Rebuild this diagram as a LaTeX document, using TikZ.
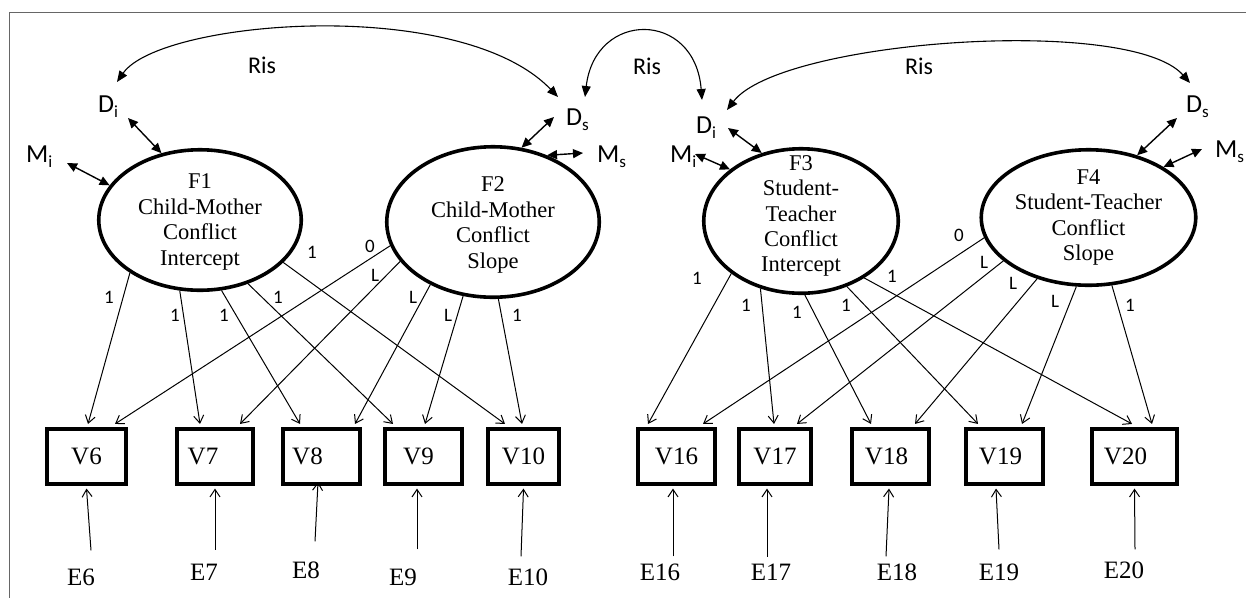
\documentclass[tikz,border=0pt]{standalone}
\usepackage{fontspec}
\setmainfont{Liberation Serif}
\newfontfamily\carlito{Carlito}
\usetikzlibrary{shapes.geometric,arrows.meta}
\newcommand\lowsub[1]{\raisebox{-5pt}{\fontsize{17}{17}\selectfont #1}}

\begin{document}
\begin{tikzpicture}[x=1pt,y=-1pt,
  latent/.style={ellipse, draw, line width=3.6pt, inner sep=0pt},
  lattext/.style={align=center, font=\fontsize{22.5}{25.4}\selectfont, inner sep=0pt},
  obs/.style={rectangle, draw, line width=3.6pt, minimum height=55.5pt, inner sep=0pt, font=\fontsize{25}{25}\selectfont},
  errlab/.style={font=\fontsize{25}{25}\selectfont, inner sep=0pt},
  load/.style={line width=1pt, -{Straight Barb[length=7.5pt,width=10pt]}},
  wt/.style={font=\carlito\fontsize{19}{19}\selectfont, inner sep=0pt},
  dist/.style={font=\carlito\fontsize{26}{26}\selectfont, inner sep=0pt, anchor=base west},
  dbl/.style={line width=1.4pt, {Triangle[length=10pt,width=9pt]}-{Triangle[length=10pt,width=9pt]}},
  cov/.style={line width=1.1pt, {Triangle[length=11pt,width=9pt]}-{Triangle[length=11pt,width=9pt]}},
  covlab/.style={font=\carlito\fontsize{24}{24}\selectfont, inner sep=0pt}
]
\useasboundingbox (0,0) rectangle (1246,598);

% frame
\draw[black!60, line width=1pt] (1246,12) -- (9,12) -- (9,598);

% latent growth factors
\node[latent, minimum width=202.5pt, minimum height=140.5pt] (F1) at (200,220) {};
\node[latent, minimum width=212.5pt, minimum height=150.5pt] (F2) at (493,222) {};
\node[latent, minimum width=194.5pt, minimum height=144.5pt] (F3) at (801,221) {};
\node[latent, minimum width=214.5pt, minimum height=135.5pt] (F4) at (1088.5,217.5) {};
\node[lattext] (F1t) at (200,222) {F1\\Child-Mother\\Conflict\\Intercept};
\node[lattext] (F2t) at (493,225) {F2\\Child-Mother\\Conflict\\Slope};
\node[lattext] (F3t) at (801,216) {F3\\Student-\\Teacher\\Conflict\\Intercept};
\node[lattext] (F4t) at (1088.5,217.5) {F4\\Student-Teacher\\Conflict\\Slope};

% observed indicators
\node[obs, minimum width=79.5pt] (V6)  at (86.5,456.5) {V6};
\node[obs, minimum width=76.5pt] (V7)  at (215,456.5)  {\kern-12pt V7\kern12pt};
\node[obs, minimum width=77.5pt] (V8)  at (321.5,456.5) {\kern-14pt V8\kern14pt};
\node[obs, minimum width=77.5pt] (V9)  at (423.5,456.5) {\kern-5pt V9\kern5pt};
\node[obs, minimum width=71.5pt] (V10) at (523.5,456.5) {V10};
\node[obs, minimum width=77.5pt] (V16) at (676.5,456.5) {V16};
\node[obs, minimum width=72.5pt] (V17) at (775,456.5)  {V17};
\node[obs, minimum width=77.5pt] (V18) at (890.5,456.5) {\kern-4pt V18\kern4pt};
\node[obs, minimum width=77.5pt] (V19) at (1004.5,456.5) {\kern-4pt V19\kern4pt};
\node[obs, minimum width=85.5pt] (V20) at (1134.5,456.5) {\kern-9pt V20\kern9pt};

% residuals
\node[errlab] (E6)  at (81,577)  {E6};
\node[errlab] (E7)  at (204,572) {E7};
\node[errlab] (E8)  at (306,570) {E8};
\node[errlab] (E9)  at (403,577) {E9};
\node[errlab] (E10) at (528,577) {E10};
\node[errlab] (E16) at (660,572) {E16};
\node[errlab] (E17) at (771,572) {E17};
\node[errlab] (E18) at (897,572) {E18};
\node[errlab] (E19) at (999,572) {E19};
\node[errlab] (E20) at (1124,570) {E20};

\draw[load] ([xshift=10pt,yshift=18pt]E6.north) -- ([yshift=-2.5pt]V6.south);
\draw[load] ([xshift=11pt,yshift=14pt]E7.north) -- ([yshift=-2.5pt]V7.south);
\draw[load] ([xshift=9pt,yshift=20pt]E8.north) -- ([xshift=-3.5pt,yshift=4pt]V8.south);
\draw[load] ([xshift=14pt,yshift=19pt]E9.north) -- ([xshift=-6.5pt,yshift=-2.5pt]V9.south);
\draw[load] ([xshift=-7pt,yshift=12pt]E10.north) -- ([yshift=-2.5pt]V10.south);
\draw[load] ([xshift=13pt,yshift=7pt]E16.north) -- ([xshift=-3.5pt,yshift=-2.5pt]V16.south);
\draw[load] ([xshift=-4pt,yshift=7pt]E17.north) -- ([xshift=-8pt,yshift=-2.5pt]V17.south);
\draw[load] ([xshift=-11pt,yshift=7pt]E18.north) -- ([xshift=-1.5pt,yshift=-2.5pt]V18.south);
\draw[load] ([yshift=14pt]E19.north) -- ([xshift=-8.5pt,yshift=-2.5pt]V19.south);
\draw[load] ([xshift=11pt,yshift=12pt]E20.north) -- ([yshift=-2.5pt]V20.south);

% loadings, child-mother block
\draw[load] (F1.217)   -- ([xshift=1.5pt,yshift=3pt]V6.north);
\draw[load] (F1.254.5) -- ([xshift=-15pt,yshift=3pt]V7.north);
\draw[load] (F1.287)   -- ([xshift=-21.5pt,yshift=3pt]V8.north);
\draw[load] (F1.307.6) -- ([xshift=-30.5pt,yshift=3pt]V9.north);
\draw[load] (F1.333)   -- ([xshift=-18.5pt,yshift=3pt]V10.north);
\draw[load] (F2.193.8) -- ([xshift=28.5pt,yshift=3pt]V6.north);
\draw[load] (F2.203)   -- ([xshift=25pt,yshift=3pt]V7.north);
\draw[load] (F2.225.4) -- ([xshift=33.5pt,yshift=3pt]V8.north);
\draw[load] (F2.248.5) -- ([xshift=1.5pt,yshift=3pt]V9.north);
\draw[load] (F2.274.5) -- ([xshift=-1.5pt,yshift=3pt]V10.north);

% loadings, student-teacher block
\draw[load] (F3.217)   -- ([xshift=-28.5pt,yshift=3pt]V16.north);
\draw[load] (F3.239.7) -- ([xshift=-1pt,yshift=3pt]V17.north);
\draw[load] (F3.273)   -- ([xshift=-19.5pt,yshift=3pt]V18.north);
\draw[load] (F3.305)   -- ([xshift=-26.5pt,yshift=3pt]V19.north);
\draw[load] (F3.318.6) -- ([xshift=-2.5pt,yshift=3pt]V20.north);
\draw[load] (F4.191.9) -- ([xshift=26.5pt,yshift=3pt]V16.north);
\draw[load] (F4.207.2) -- ([xshift=22pt,yshift=3pt]V17.north);
\draw[load] (F4.230.8) -- ([xshift=24.5pt,yshift=3pt]V18.north);
\draw[load] (F4.260.3) -- ([xshift=17.5pt,yshift=3pt]V19.north);
\draw[load] (F4.289.4) -- ([xshift=17.5pt,yshift=3pt]V20.north);

% loading values
\node[wt] (w1)  at (109,297) {1};
\node[wt] (w2)  at (175,315) {1};
\node[wt] (w3)  at (224,315) {1};
\node[wt] (w4)  at (278,297) {1};
\node[wt] (w5)  at (312,252) {1};
\node[wt] (w6)  at (370,246) {0};
\node[wt] (w7)  at (375,275) {L};
\node[wt] (w8)  at (413,297) {L};
\node[wt] (w9)  at (448,315) {L};
\node[wt] (w10) at (517,315) {1};
\node[wt] (w11) at (697,278) {1};
\node[wt] (w12) at (746,305) {1};
\node[wt] (w13) at (797,312) {1};
\node[wt] (w14) at (846,305) {1};
\node[wt] (w15) at (892,276) {1};
\node[wt] (w16) at (959,235) {0};
\node[wt] (w17) at (984,262) {L};
\node[wt] (w18) at (1013,283) {L};
\node[wt] (w19) at (1055,301) {L};
\node[wt] (w20) at (1130,305) {1};

% disturbances and means
\node[dist] (Di1) at (98,112)   {D\lowsub{i}};
\node[dist] (Mi1) at (26,162)   {M\lowsub{i}};
\node[dist] (Ds2) at (566,125)  {D\lowsub{s}};
\node[dist] (Ms2) at (597,162)  {M\lowsub{s}};
\node[dist] (Di3) at (696,133)  {D\lowsub{i}};
\node[dist] (Mi3) at (670,162)  {M\lowsub{i}};
\node[dist] (Ds4) at (1186,112) {D\lowsub{s}};
\node[dist] (Ms4) at (1215,157) {M\lowsub{s}};

\draw[dbl] ([xshift=30pt,yshift=-6pt]Di1.base west) -- (F1.120.5);
\draw[dbl] ([xshift=41pt,yshift=-1pt]Mi1.base west) -- (F1.159.4);
\draw[dbl] ([xshift=-12pt,yshift=8pt]Ds2.base west) -- (F2.69.4);
\draw[dbl] ([xshift=-14pt,yshift=9pt]Ms2.base west) -- (F2.51.1);
\draw[dbl] ([xshift=32pt,yshift=5pt]Di3.base west) -- (F3.120.2);
\draw[dbl] ([xshift=25pt,yshift=8pt]Mi3.base west) -- (F3.144);
\draw[dbl] ([xshift=-9pt,yshift=-6pt]Ds4.base west) -- (F4.52.6);
\draw[dbl] ([xshift=-13pt,yshift=8pt]Ms4.base west) -- (F4.34.7);

% covariances between intercepts and slopes
\draw[cov] ([xshift=19pt,yshift=30pt]Di1.base west) .. controls (160,20) and (460,-5) .. ([xshift=-8pt,yshift=28pt]Ds2.base west);
\draw[cov] ([xshift=19pt,yshift=28pt]Ds2.base west) .. controls (595,10) and (695,10) .. ([xshift=6pt,yshift=33pt]Di3.base west);
\draw[cov] ([xshift=31pt,yshift=23pt]Di3.base west) .. controls (780,40) and (1130,15) .. ([xshift=4pt,yshift=29pt]Ds4.base west);
\node[covlab] (R1) at (262,65) {Ris};
\node[covlab] (R2) at (647,66) {Ris};
\node[covlab] (R3) at (919,66) {Ris};
\end{tikzpicture}
\end{document}
